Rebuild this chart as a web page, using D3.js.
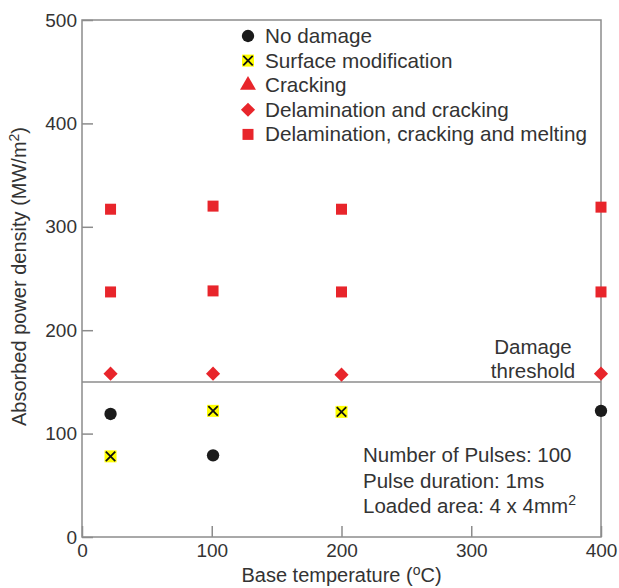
<!DOCTYPE html>
<html lang="en">
<head>
<meta charset="UTF-8">
<title>Damage map</title>
<script src="https://d3js.org/d3.v7.min.js"></script>
<style>
	body { margin: 0; background: #fff; }
	text { font-family: "Liberation Sans", Arial, Helvetica, sans-serif; fill: #333; }
	.tick-label { font-size: 19px; }
	.axis-title { font-size: 20px; }
	.legend-label { font-size: 20.7px; }
	.note { font-size: 20.5px; }
</style>
</head>
<body>
<svg id="chart" width="619" height="588"></svg>
<script>
const width = 619, height = 588;
const margin = {top: 20, right: 18, bottom: 51, left: 82};

// Data: base temperature (oC) vs absorbed power density (MW/m2)
const noDamage = [[22, 119], [101, 79], [400, 122]];
const surfaceMod = [[22, 78], [101, 122], [200, 121]];
const cracking = [];
const delamCracking = [[22, 158], [101, 158], [200, 157], [400, 158]];
const delamCrackMelt = [[22, 317], [22, 237], [101, 320], [101, 238], [200, 317], [200, 237], [400, 319], [400, 237]];
const threshold = 150;

const xTicks = [0, 100, 200, 300, 400];
const yTicks = [0, 100, 200, 300, 400, 500];
const legendLabels = ["No damage", "Surface modification", "Cracking", "Delamination and cracking", "Delamination, cracking and melting"];
const noteLines = ["Number of Pulses: 100", "Pulse duration: 1ms", "Loaded area: 4 x 4mm"];

const red = "#e8252b", axisGrey = "#8c8c8c";

const svg = d3.select("#chart");
const x = d3.scaleLinear().domain([0, 400]).range([margin.left, width - margin.right]);
const y = d3.scaleLinear().domain([0, 500]).range([height - margin.bottom, margin.top]);

// axes: ticks point inward
svg.append("g")
	.attr("transform", `translate(0,${y(0)})`)
	.call(d3.axisBottom(x).tickValues(xTicks).tickSize(-11).tickPadding(7).tickFormat(d3.format("d")))
	.call(g => g.select(".domain").remove())
	.call(g => g.selectAll("line").attr("stroke", axisGrey).attr("stroke-width", 1.5))
	.call(g => g.selectAll("text").attr("class", "tick-label").attr("font-size", null).attr("font-family", null).attr("fill", null));

svg.append("g")
	.attr("transform", `translate(${x(0)},0)`)
	.call(d3.axisLeft(y).tickValues(yTicks).tickSize(-11).tickPadding(5).tickFormat(d3.format("d")))
	.call(g => g.select(".domain").remove())
	.call(g => g.selectAll("line").attr("stroke", axisGrey).attr("stroke-width", 1.5))
	.call(g => g.selectAll("text").attr("class", "tick-label").attr("font-size", null).attr("font-family", null).attr("fill", null));

// frame
svg.append("rect")
	.attr("x", x(0)).attr("y", y(500))
	.attr("width", x(400) - x(0)).attr("height", y(0) - y(500))
	.attr("fill", "none").attr("stroke", axisGrey).attr("stroke-width", 1.5);

// axis titles
svg.append("text").attr("class", "axis-title")
	.attr("x", (x(0) + x(400)) / 2).attr("y", 582).attr("text-anchor", "middle")
	.html('Base temperature (<tspan font-size="14" dy="-7">o</tspan><tspan dy="7">C)</tspan>');

svg.append("text").attr("class", "axis-title")
	.attr("transform", `translate(26,${(y(0) + y(500)) / 2 - 2}) rotate(-90)`)
	.attr("text-anchor", "middle")
	.html('Absorbed power density (MW/m<tspan font-size="14" dy="-7">2</tspan><tspan dy="7">)</tspan>');

// damage threshold
svg.append("line")
	.attr("x1", x(0)).attr("x2", x(400))
	.attr("y1", y(threshold)).attr("y2", y(threshold))
	.attr("stroke", axisGrey).attr("stroke-width", 1.5);
svg.append("text").attr("class", "note").attr("x", 533).attr("y", y(threshold) - 28).attr("text-anchor", "middle").text("Damage");
svg.append("text").attr("class", "note").attr("x", 533).attr("y", y(threshold) - 4).attr("text-anchor", "middle").text("threshold");

// notes
noteLines.forEach((t, i) => {
	const txt = svg.append("text").attr("class", "note").attr("x", 363).attr("y", 462 + i * 25.5).text(t);
	if (i === 2) txt.append("tspan").attr("font-size", 14).attr("dy", -8).text("2");
});

// marker drawers
const circlePath = d3.symbol(d3.symbolCircle, 120)();
const squarePath = d3.symbol(d3.symbolSquare, 121)();
const diamondPath = d3.symbol(d3.symbolSquare, 100)();
const trianglePath = d3.symbol(d3.symbolTriangle, 110)();
const xPath = d3.symbol(d3.symbolX, 60)();

function drawCircle(g) { g.append("path").attr("d", circlePath).attr("fill", "#1b1b1b"); }
function drawCross(g) {
	g.append("rect").attr("x", -6).attr("y", -6).attr("width", 12).attr("height", 12).attr("fill", "#ffff00");
	g.append("path").attr("d", xPath).attr("stroke", "#111").attr("stroke-width", 1.8).attr("fill", "none");
}
function drawTriangle(g) { g.append("path").attr("d", trianglePath).attr("fill", red); }
function drawDiamond(g) { g.append("path").attr("d", diamondPath).attr("transform", "rotate(45)").attr("fill", red); }
function drawSquare(g) { g.append("path").attr("d", squarePath).attr("fill", red); }

const series = [
	{data: noDamage, draw: drawCircle},
	{data: surfaceMod, draw: drawCross},
	{data: cracking, draw: drawTriangle},
	{data: delamCracking, draw: drawDiamond},
	{data: delamCrackMelt, draw: drawSquare}
];

series.forEach(s => {
	svg.append("g").selectAll("g")
		.data(s.data)
		.join("g")
		.attr("transform", d => `translate(${x(d[0])},${y(d[1])})`)
		.each(function() { s.draw(d3.select(this)); });
});

// legend
const legend = svg.append("g").attr("transform", "translate(248,36)");
series.forEach((s, i) => {
	const row = legend.append("g").attr("transform", `translate(0,${i * 24.6})`);
	s.draw(row);
	row.append("text").attr("class", "legend-label").attr("x", 17).attr("y", 7).text(legendLabels[i]);
});
</script>
</body>
</html>
